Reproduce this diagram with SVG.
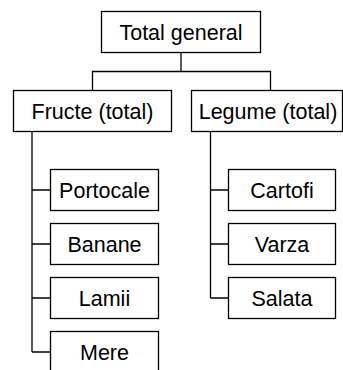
<svg xmlns="http://www.w3.org/2000/svg" width="343" height="370" viewBox="0 0 343 370">
<style>
rect{fill:#fff;stroke:#000;stroke-width:1.3}
path{fill:none;stroke:#000;stroke-width:1.3}
text{font-family:"Liberation Sans",Arial,sans-serif;font-size:21.5px;fill:#000;text-anchor:middle}
</style>
<rect x="0" y="0" width="343" height="370" style="stroke:none"/>
<g id="connectors">
<path d="M181,52.5V71.5M92.5,90.5V71.5H270.5V90.5"/>
<path d="M32,131.5V352M32,190H50.5M32,244H50.5M32,298H50.5M32,352H50.5"/>
<path d="M210.5,131.5V298M210.5,190H228.5M210.5,244H228.5M210.5,298H228.5"/>
</g>
<g id="total"><rect x="101.5" y="11.5" width="159" height="41"/><text x="181" y="39.5">Total general</text></g>
<g id="fructe"><rect x="13.5" y="90.5" width="158" height="41"/><text x="92.5" y="118.5">Fructe (total)</text></g>
<g id="legume"><rect x="191.5" y="90.5" width="151" height="41"/><text x="268" y="118.5">Legume (total)</text></g>
<g id="portocale"><rect x="50.5" y="169.5" width="108" height="41"/><text x="104.5" y="197.5">Portocale</text></g>
<g id="banane"><rect x="50.5" y="223.5" width="108" height="41"/><text x="104.5" y="251.5">Banane</text></g>
<g id="lamii"><rect x="50.5" y="277.5" width="108" height="41"/><text x="104.5" y="305.5">Lamii</text></g>
<g id="mere"><rect x="50.5" y="331.5" width="108" height="41"/><text x="104.5" y="359.5">Mere</text></g>
<g id="cartofi"><rect x="228.5" y="169.5" width="107" height="41"/><text x="282" y="197.5">Cartofi</text></g>
<g id="varza"><rect x="228.5" y="223.5" width="107" height="41"/><text x="282" y="251.5">Varza</text></g>
<g id="salata"><rect x="228.5" y="277.5" width="107" height="41"/><text x="282" y="305.5">Salata</text></g>
</svg>
